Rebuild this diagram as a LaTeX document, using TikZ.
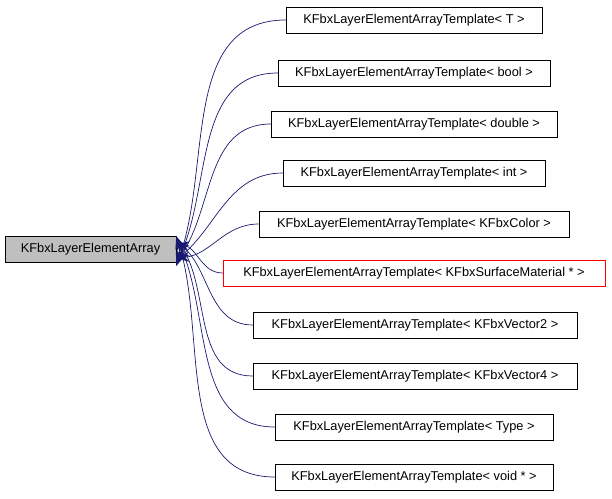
\documentclass[tikz,border=0pt]{standalone}
\usepackage{fontspec}
\setmainfont{Liberation Sans}
\usetikzlibrary{arrows.meta}
\begin{document}
\begin{tikzpicture}[x=1pt,y=-1pt,
  box/.style={draw,minimum height=26pt,inner sep=0pt,font=\fontsize{12.8}{15}\selectfont},
  edge/.style={draw={rgb,255:red,25;green,25;blue,112},line width=0.7pt,{Stealth[length=13pt,width=10pt]}-}]
\useasboundingbox (0,0) rectangle (612,498);
\node[box,fill=black!25,minimum width=171pt] (l) at (90.5,249) {KFbxLayerElementArray};
\node[box,minimum width=256pt] (r1) at (414,20) {KFbxLayerElementArrayTemplate< T >};
\node[box,minimum width=272pt] (r2) at (414,73) {KFbxLayerElementArrayTemplate< bool >};
\node[box,minimum width=286pt] (r3) at (414,124) {KFbxLayerElementArrayTemplate< double >};
\node[box,minimum width=262pt] (r4) at (414,173) {KFbxLayerElementArrayTemplate< int >};
\node[box,minimum width=310pt] (r5) at (414,224) {KFbxLayerElementArrayTemplate< KFbxColor >};
\node[box,draw=red,minimum width=382pt] (r6) at (414,273) {KFbxLayerElementArrayTemplate< KFbxSurfaceMaterial * >};
\node[box,minimum width=324pt] (r7) at (415,325) {KFbxLayerElementArrayTemplate< KFbxVector2 >};
\node[box,minimum width=324pt] (r8) at (415,376) {KFbxLayerElementArrayTemplate< KFbxVector4 >};
\node[box,minimum width=278pt] (r9) at (414,427) {KFbxLayerElementArrayTemplate< Type >};
\node[box,minimum width=278pt] (r10) at (414,477) {KFbxLayerElementArrayTemplate< void * >};
\draw[edge] ([yshift=-17pt]l.east) to[out=70,in=180] (r1.west);
\draw[edge] ([yshift=-15pt]l.east) to[out=65,in=180] (r2.west);
\draw[edge] ([yshift=-13pt]l.east) to[out=55,in=180] (r3.west);
\draw[edge] ([yshift=-11pt]l.east) to[out=40,in=180] (r4.west);
\draw[edge] ([yshift=-9pt]l.east) to[out=5,in=180] (r5.west);
\draw[edge] ([yshift=5pt]l.east) to[out=-10,in=180] (r6.west);
\draw[edge] ([yshift=8pt]l.east) to[out=-40,in=180] (r7.west);
\draw[edge] ([yshift=10pt]l.east) to[out=-55,in=180] (r8.west);
\draw[edge] ([yshift=12pt]l.east) to[out=-65,in=180] (r9.west);
\draw[edge] ([yshift=13pt]l.east) to[out=-72,in=180] (r10.west);
\end{tikzpicture}
\end{document}
